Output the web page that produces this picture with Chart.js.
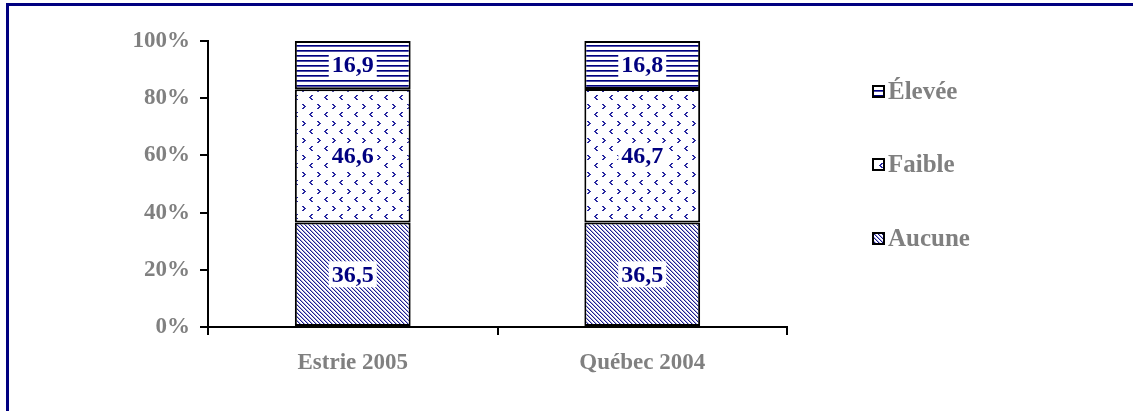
<!DOCTYPE html>
<html>
<head>
<meta charset="utf-8">
<script src="https://cdn.jsdelivr.net/npm/chart.js@4/dist/chart.umd.min.js"></script>
<style>
  body { margin: 0; background: #fff; }
  #wrap { position: relative; width: 1133px; height: 411px; overflow: hidden; }
  #frame { position: absolute; left: 6px; top: 3px; width: 1140px; height: 420px;
           border-top: 3px solid #000080; border-left: 3px solid #000080; pointer-events: none; }
</style>
</head>
<body>
<div id="wrap">
  <canvas id="mychart" width="1133" height="411"></canvas>
  <div id="frame"></div>
</div>
<script>
// data
const categories = ['Estrie 2005', 'Québec 2004']
const seriesNames = ['Aucune', 'Faible', 'Élevée']
const aucune = [36.5, 36.5]
const faible = [46.6, 46.7]
const elevee = [16.9, 16.8]
const yTicks = [0, 20, 40, 60, 80, 100]

const navy = '#000080'
const grey = '#808080'
const fontFam = '"Liberation Serif", "Times New Roman", serif'

function makePattern(w, h, draw){
	const c = document.createElement('canvas')
	c.width = w
	c.height = h
	const ctx = c.getContext('2d')
	ctx.fillStyle = '#fff'
	ctx.fillRect(0, 0, w, h)
	draw(ctx)
	return document.getElementById('mychart').getContext('2d').createPattern(c, 'repeat')
}

// diagonal stripes
const patAucune = makePattern(4, 4, function(ctx){
	for (let i = 0; i < 4; i++){
		ctx.fillStyle = '#1c1c90'
		ctx.fillRect(i, i, 1, 1)
		ctx.fillStyle = '#a8a8d8'
		ctx.fillRect((i + 1) % 4, i, 1, 1)
	}
})

// small chevrons
const patFaible = makePattern(15, 17, function(ctx){
	const gt = [[0,0],[1,1],[2,2],[1,3],[0,4]]
	const lt = [[2,0],[1,1],[0,2],[1,3],[2,4]]
	ctx.fillStyle = '#2828a0'
	gt.forEach(p => ctx.fillRect(2 + p[0], 2 + p[1], 2, 1))
	lt.forEach(p => ctx.fillRect(9 + p[0], 10 + p[1], 2, 1))
})

// horizontal lines
const patElevee = makePattern(4, 5, function(ctx){
	ctx.fillStyle = navy
	ctx.fillRect(0, 0, 4, 1)
	ctx.fillStyle = '#5050a8'
	ctx.fillRect(0, 1, 4, 1)
})

// value labels in white boxes
const valueLabels = {
	id: 'valueLabels',
	afterDatasetsDraw(chart){
		const ctx = chart.ctx
		ctx.save()
		ctx.font = 'bold 24px ' + fontFam
		ctx.textAlign = 'center'
		ctx.textBaseline = 'middle'
		chart.data.datasets.forEach(function(ds, i){
			chart.getDatasetMeta(i).data.forEach(function(bar, j){
				const p = bar.getProps(['x', 'y', 'base'], true)
				const cy = (p.y + p.base) / 2
				const txt = ds.data[j].toFixed(1).replace('.', ',')
				const w = ctx.measureText(txt).width
				ctx.fillStyle = '#fff'
				ctx.fillRect(p.x - w / 2 - 3, cy - 13, w + 6, 26)
				ctx.fillStyle = navy
				ctx.fillText(txt, p.x, cy + 1)
			})
		})
		ctx.restore()
	}
}

// legend on the right, top item = last series
const sideLegend = {
	id: 'sideLegend',
	afterDraw(chart){
		const ctx = chart.ctx
		const rowsY = [92, 165, 239]
		ctx.save()
		ctx.font = 'bold 25px ' + fontFam
		ctx.textBaseline = 'middle'
		const ds = chart.data.datasets.slice().reverse()
		ds.forEach(function(d, i){
			const y = rowsY[i]
			ctx.fillStyle = d.backgroundColor
			ctx.fillRect(873, y - 6, 11, 11)
			ctx.strokeStyle = '#000'
			ctx.lineWidth = 2
			ctx.strokeRect(873, y - 6, 11, 11)
			ctx.fillStyle = grey
			ctx.fillText(d.label, 888, y + 1)
		})
		ctx.restore()
	}
}

const canvasforchart = document.getElementById('mychart')
new Chart(canvasforchart, {
	type: 'bar',
	data: {
		labels: categories,
		datasets: [
			{ label: seriesNames[0], data: aucune, backgroundColor: patAucune },
			{ label: seriesNames[1], data: faible, backgroundColor: patFaible },
			{ label: seriesNames[2], data: elevee, backgroundColor: patElevee }
		].map(d => Object.assign(d, {
			borderColor: '#000', borderWidth: 2, borderSkipped: false,
			barPercentage: 0.4, categoryPercentage: 1
		}))
	},
	options: {
		responsive: false,
		animation: false,
		layout: { padding: { left: 0, top: 41, right: 346, bottom: 0 } },
		plugins: { legend: { display: false }, tooltip: { enabled: false } },
		scales: {
			x: {
				stacked: true,
				afterFit(scale){ scale.height = 84 },
				grid: { offset: true, drawOnChartArea: false, tickLength: 8, color: '#000', lineWidth: 2 },
				border: { color: '#000', width: 2 },
				ticks: { color: grey, padding: 14, font: { family: fontFam, size: 23, weight: 'bold' } }
			},
			y: {
				stacked: true,
				min: 0,
				max: 100,
				afterFit(scale){ scale.width = 208 },
				afterBuildTicks(scale){ scale.ticks = yTicks.map(v => ({ value: v })) },
				grid: { drawOnChartArea: false, tickLength: 8, color: '#000', lineWidth: 2 },
				border: { color: '#000', width: 2 },
				ticks: { color: grey, padding: 10, callback: v => v + '%',
					font: { family: fontFam, size: 23, weight: 'bold' } }
			}
		}
	},
	plugins: [valueLabels, sideLegend]
})
</script>
</body>
</html>
